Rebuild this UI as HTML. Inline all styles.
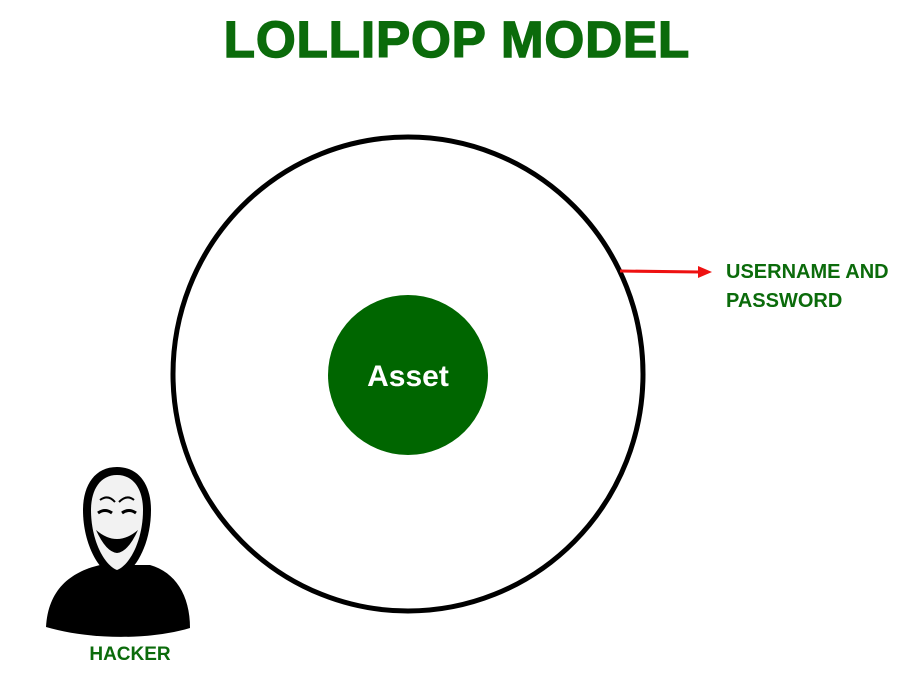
<!DOCTYPE html>
<html><head><style>
body{margin:0;background:#fff;width:919px;height:678px;overflow:hidden}
svg{display:block}
</style></head><body>
<svg width="919" height="678" viewBox="0 0 919 678">
<text x="457" y="57" text-anchor="middle" font-family="Liberation Sans, sans-serif" font-weight="bold" font-size="51" fill="#0b6b0b" stroke="#0b6b0b" stroke-width="1.5" letter-spacing="1">LOLLIPOP MODEL</text>
<ellipse cx="408" cy="374" rx="235" ry="237" fill="none" stroke="#000" stroke-width="5"/>
<circle cx="408" cy="375" r="80" fill="#006600"/>
<text x="408" y="386" text-anchor="middle" font-family="Liberation Sans, sans-serif" font-weight="bold" font-size="30" fill="#fff">Asset</text>
<line x1="620" y1="271" x2="700" y2="272" stroke="#ee1111" stroke-width="3"/>
<polygon points="698,266 712,272 698,278" fill="#ee1111"/>
<text font-family="Liberation Sans, sans-serif" font-weight="bold" font-size="20" fill="#0b6b0b"><tspan x="726" y="278">USERNAME AND</tspan><tspan x="726" y="307">PASSWORD</tspan></text>
<path d="M46,627 C48,590 70,572 100,565 L150,565 C175,572 190,595 190,628 C150,640 90,640 46,627Z" fill="#000"/>
<path d="M117,467 C95,467 83,485 83,510 C83,545 100,575 117,577 C134,575 151,545 151,510 C151,485 139,467 117,467Z" fill="#000"/>
<path d="M117,475 C100,475 91,490 91,510 C91,540 104,565 117,570 C130,565 143,540 143,510 C143,490 134,475 117,475Z" fill="#f2f2f2"/>
<path d="M98,513 q7,-5 14,0 M122,513 q7,-5 14,0" stroke="#000" stroke-width="3" fill="none"/>
<path d="M96,530 q21,18 42,0 q-10,22 -21,23 q-11,-1 -21,-23Z" fill="#000"/>
<path d="M100,500 q8,-6 15,2 M119,502 q8,-8 15,-2" stroke="#000" stroke-width="2" fill="none"/>
<text x="130" y="660" text-anchor="middle" font-family="Liberation Sans, sans-serif" font-weight="bold" font-size="19" fill="#0b6b0b">HACKER</text>
</svg>
</body></html>
